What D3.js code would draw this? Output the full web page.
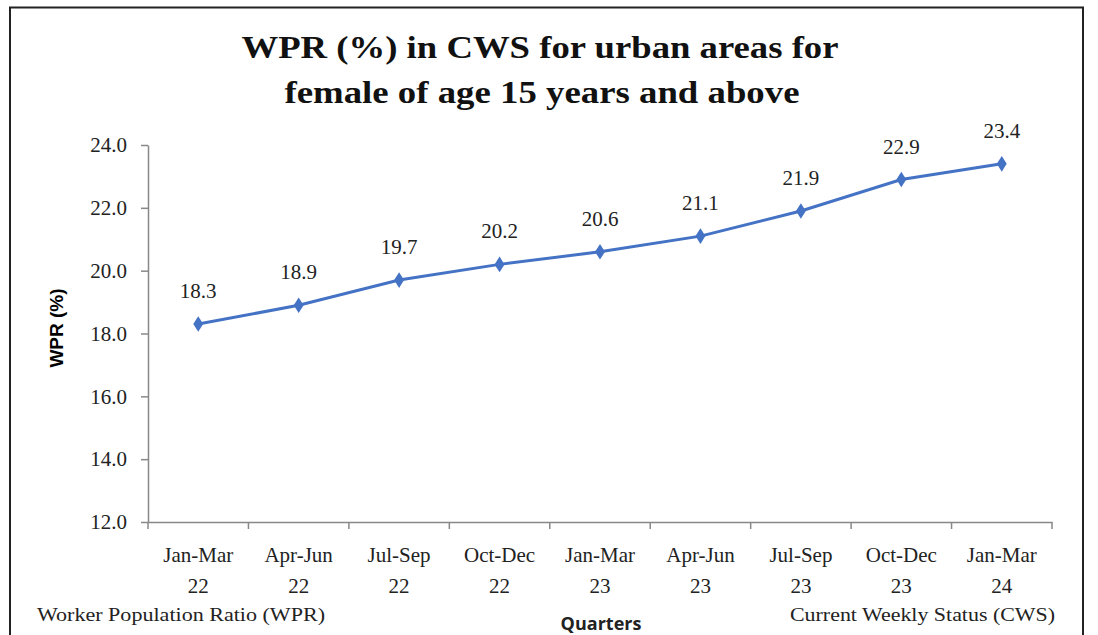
<!DOCTYPE html>
<html>
<head>
<meta charset="utf-8">
<script src="https://cdn.jsdelivr.net/npm/d3@7"></script>
<style>
  body { margin: 0; background: #fff; }
  svg { display: block; }
</style>
</head>
<body>
<div id="chart"></div>
<script>
var quarters = ["Jan-Mar|22", "Apr-Jun|22", "Jul-Sep|22", "Oct-Dec|22", "Jan-Mar|23",
  "Apr-Jun|23", "Jul-Sep|23", "Oct-Dec|23", "Jan-Mar|24"]
var wpr = [18.3, 18.9, 19.7, 20.2, 20.6, 21.1, 21.9, 22.9, 23.4]
var yTicks = [12, 14, 16, 18, 20, 22, 24]

var width = 1098, height = 635
var margin = { left: 148, right: 46, top: 145, bottom: 113 }

var svg = d3.select("#chart").append("svg")
  .attr("width", width)
  .attr("height", height)

// outer frame
svg.append("path")
  .attr("d", "M10,640 L10,7.5 L1083,7.5 L1083,640")
  .attr("fill", "none")
  .attr("stroke", "#222")
  .attr("stroke-width", 2)

var x = d3.scaleBand()
  .domain(quarters)
  .range([margin.left, width - margin.right])

var y = d3.scaleLinear()
  .domain([12, 24])
  .range([height - margin.bottom, margin.top])

var serif = "'Liberation Serif', 'Times New Roman', serif"

// title
svg.append("text")
  .attr("x", 540).attr("y", 58)
  .attr("text-anchor", "middle")
  .attr("textLength", 597)
  .attr("lengthAdjust", "spacingAndGlyphs")
  .style("font-family", serif)
  .style("font-weight", "bold")
  .style("font-size", "31px")
  .attr("fill", "#111")
  .text("WPR (%) in CWS for urban areas for")
svg.append("text")
  .attr("x", 542).attr("y", 103)
  .attr("text-anchor", "middle")
  .attr("textLength", 515)
  .attr("lengthAdjust", "spacingAndGlyphs")
  .style("font-family", serif)
  .style("font-weight", "bold")
  .style("font-size", "31px")
  .attr("fill", "#111")
  .text("female of age 15 years and above")

// y axis
var yAxis = svg.append("g")
  .attr("transform", "translate(" + margin.left + ",0)")
  .call(d3.axisLeft(y).tickValues(yTicks).tickFormat(d3.format(".1f")).tickSize(7).tickSizeOuter(0).tickPadding(14))
yAxis.selectAll("text")
  .style("font-family", serif)
  .style("font-size", "21px")
  .attr("fill", "#222")
yAxis.selectAll("line, path").attr("stroke", "#888").attr("stroke-width", 1.5)

// x axis
var xAxis = svg.append("g")
  .attr("transform", "translate(0," + (height - margin.bottom) + ")")
  .call(d3.axisBottom(x).tickSize(0).tickSizeOuter(0).tickFormat(""))
xAxis.select("path").attr("stroke", "#888").attr("stroke-width", 1.5)

var tickPos = quarters.map(function(q) { return x(q) }).concat([width - margin.right])
xAxis.selectAll(".sep")
  .data(tickPos)
  .enter().append("line")
  .attr("class", "sep")
  .attr("x1", function(d) { return d }).attr("x2", function(d) { return d })
  .attr("y1", 0).attr("y2", 7)
  .attr("stroke", "#888").attr("stroke-width", 1.5)

var xl = svg.selectAll(".xlab")
  .data(quarters)
  .enter().append("text")
  .attr("class", "xlab")
  .attr("text-anchor", "middle")
  .style("font-family", serif)
  .style("font-size", "21px")
  .attr("fill", "#222")
xl.append("tspan")
  .attr("x", function(d) { return x(d) + x.bandwidth() / 2 })
  .attr("y", 562)
  .text(function(d) { return d.split("|")[0] })
xl.append("tspan")
  .attr("x", function(d) { return x(d) + x.bandwidth() / 2 })
  .attr("y", 593)
  .text(function(d) { return d.split("|")[1] })

// axis titles
svg.append("text")
  .attr("transform", "translate(63,328) rotate(-90)")
  .attr("text-anchor", "middle")
  .style("font-family", "'Liberation Sans', Arial, sans-serif")
  .style("font-weight", "bold")
  .style("font-size", "19px")
  .text("WPR (%)")
svg.append("text")
  .attr("x", 601).attr("y", 630)
  .attr("text-anchor", "middle")
  .style("font-family", "'Open Sans', 'Liberation Sans', sans-serif")
  .style("font-weight", "bold")
  .style("font-size", "18px")
  .attr("fill", "#222")
  .text("Quarters")

// footnotes
svg.append("text")
  .attr("x", 37).attr("y", 621)
  .attr("textLength", 288)
  .attr("lengthAdjust", "spacingAndGlyphs")
  .style("font-family", serif)
  .style("font-size", "19px")
  .attr("fill", "#222")
  .text("Worker Population Ratio (WPR)")
svg.append("text")
  .attr("x", 790).attr("y", 621)
  .attr("textLength", 265)
  .attr("lengthAdjust", "spacingAndGlyphs")
  .style("font-family", serif)
  .style("font-size", "19px")
  .attr("fill", "#222")
  .text("Current Weekly Status (CWS)")

// line
var cx = function(d, i) { return x(quarters[i]) + x.bandwidth() / 2 }
var line = d3.line()
  .x(cx)
  .y(function(d) { return y(d) })

svg.append("path")
  .datum(wpr)
  .attr("d", line)
  .attr("fill", "none")
  .attr("stroke", "#4472c4")
  .attr("stroke-width", 3)

svg.selectAll(".pt")
  .data(wpr)
  .enter().append("path")
  .attr("class", "pt")
  .attr("d", d3.symbol().type(d3.symbolDiamond).size(70))
  .attr("transform", function(d, i) { return "translate(" + cx(d, i) + "," + y(d) + ") scale(1.1,1)" })
  .attr("fill", "#4472c4")

svg.selectAll(".lbl")
  .data(wpr)
  .enter().append("text")
  .attr("class", "lbl")
  .attr("x", cx)
  .attr("y", function(d) { return y(d) - 26 })
  .attr("text-anchor", "middle")
  .style("font-family", serif)
  .style("font-size", "21px")
  .attr("fill", "#222")
  .text(function(d) { return d3.format(".1f")(d) })
</script>
</body>
</html>
